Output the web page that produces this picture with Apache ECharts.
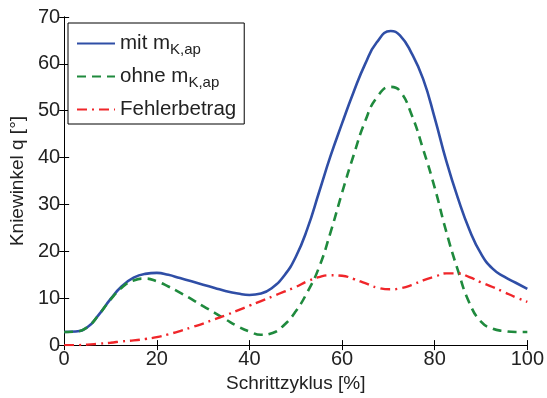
<!DOCTYPE html>
<html>
<head>
<meta charset="utf-8">
<script src="https://cdn.jsdelivr.net/npm/echarts@6/dist/echarts.min.js"></script>
<style>
  html, body { margin: 0; padding: 0; background: #fff; }
  #chart { width: 547px; height: 398px; }
</style>
</head>
<body>
<div id="chart"></div>
<script>
// x positions (Schrittzyklus in %), mostly every 2.5, one extra at the main peak
const xValues = [0, 2.5, 5, 7.5, 10, 12.5, 15, 17.5, 20, 22.5, 25, 27.5, 30, 32.5, 35, 37.5, 40,
  42.5, 45, 47.5, 50, 52.5, 55, 57.5, 60, 62.5, 65, 67.5, 70.5, 72.5, 75, 77.5, 80, 82.5, 85, 87.5,
  90, 92.5, 95, 97.5, 100];
const mitValues = [2.8, 2.9, 3.8, 6.5, 9.8, 12.6, 14.4, 15.2, 15.4, 15.0, 14.3, 13.6, 12.9, 12.2,
  11.5, 11.0, 10.7, 11.0, 12.3, 14.8, 18.8, 24.8, 32.5, 40.3, 47.3, 54.0, 60.0, 64.6, 67.0, 66.1,
  62.3, 56.8, 48.5, 39.3, 31.4, 24.6, 19.5, 16.3, 14.6, 13.3, 12.0];
const ohneValues = [2.8, 2.9, 3.8, 6.5, 9.7, 12.3, 13.8, 14.2, 13.6, 12.5, 11.2, 9.8, 8.3, 6.9,
  5.4, 4.0, 2.9, 2.2, 2.6, 4.3, 7.2, 11.3, 16.5, 24.0, 32.5, 40.5, 47.8, 52.8, 55.1, 54.2, 49.2,
  41.8, 33.6, 24.2, 16.0, 9.0, 5.0, 3.5, 3.0, 2.8, 2.8];
const fehlerValues = [0, 0, 0.1, 0.3, 0.5, 0.8, 1.0, 1.3, 1.7, 2.3, 3.0, 3.8, 4.6, 5.5, 6.4, 7.4,
  8.4, 9.4, 10.4, 11.4, 12.4, 13.6, 14.5, 14.9, 14.8, 14.1, 13.2, 12.3, 11.9, 12.1, 12.8, 13.8,
  14.6, 15.3, 15.3, 14.5, 13.4, 12.4, 11.3, 10.2, 9.2];
const seriesNames = ['mit', 'ohne', 'Fehlerbetrag'];
const legendLabels = {
  mit: '{n|mit m}{s|K,ap}',
  ohne: '{n|ohne m}{s|K,ap}',
  Fehlerbetrag: '{n|Fehlerbetrag}'
};

const textFont = 'Liberation Sans';
const textColor = '#222';

function pairs(ys) {
  return xValues.map((x, i) => [x, ys[i]]);
}

const myChart = echarts.init(document.getElementById('chart'));

const boxAxis = {
  axisLine: { show: true, lineStyle: { color: '#000', width: 1 } },
  axisTick: { show: true, inside: true, length: 5, lineStyle: { color: '#000' } },
  splitLine: { show: false }
};

const option = {
  animation: false,
  backgroundColor: '#fff',
  grid: { left: 62, right: 18, top: 17, bottom: 51 },
  legend: {
    data: seriesNames,
    orient: 'vertical',
    left: 68,
    top: 23,
    itemWidth: 38,
    itemHeight: 14,
    itemGap: 9,
    padding: [10, 8, 4, 8],
    borderColor: '#000',
    borderWidth: 1,
    backgroundColor: '#fff',
    itemStyle: { opacity: 0 },
    formatter: name => legendLabels[name],
    textStyle: {
      rich: {
        n: { fontFamily: textFont, fontSize: 20.5, color: textColor },
        s: { fontFamily: textFont, fontSize: 15, color: textColor, padding: [12, 0, 0, 0] }
      }
    }
  },
  xAxis: [{
    type: 'value',
    min: 0, max: 100, interval: 20,
    ...boxAxis,
    name: 'Schrittzyklus [%]',
    nameLocation: 'middle',
    nameGap: 28,
    nameTextStyle: { fontFamily: textFont, fontSize: 19, color: textColor },
    axisLabel: { fontFamily: textFont, fontSize: 20, color: textColor, margin: 4 }
  }, {
    type: 'value',
    position: 'top',
    min: 0, max: 100, interval: 20,
    ...boxAxis,
    axisLabel: { show: false }
  }],
  yAxis: [{
    type: 'value',
    min: 0, max: 70, interval: 10,
    ...boxAxis,
    name: 'Kniewinkel q [°]',
    nameLocation: 'middle',
    nameGap: 34,
    nameTextStyle: { fontFamily: textFont, fontSize: 19, color: textColor },
    axisLabel: { fontFamily: textFont, fontSize: 20, color: textColor, margin: 4 }
  }, {
    type: 'value',
    position: 'right',
    min: 0, max: 70, interval: 10,
    ...boxAxis,
    axisLabel: { show: false }
  }],
  series: [{
    name: 'mit',
    type: 'line',
    smooth: true,
    showSymbol: false,
    symbol: 'none',
    z: 3,
    lineStyle: { color: '#2f4ea6', width: 2.6 },
    itemStyle: { color: '#2f4ea6' },
    data: pairs(mitValues)
  }, {
    name: 'ohne',
    type: 'line',
    smooth: true,
    showSymbol: false,
    symbol: 'none',
    z: 4,
    lineStyle: { color: '#1f8a3d', width: 2.6, type: [9, 6] },
    itemStyle: { color: '#1f8a3d' },
    data: pairs(ohneValues)
  }, {
    name: 'Fehlerbetrag',
    type: 'line',
    smooth: true,
    showSymbol: false,
    symbol: 'none',
    z: 5,
    lineStyle: { color: '#f0262a', width: 2.4, type: [10, 5, 2, 5] },
    itemStyle: { color: '#f0262a' },
    data: pairs(fehlerValues)
  }]
};

myChart.setOption(option);
</script>
</body>
</html>
